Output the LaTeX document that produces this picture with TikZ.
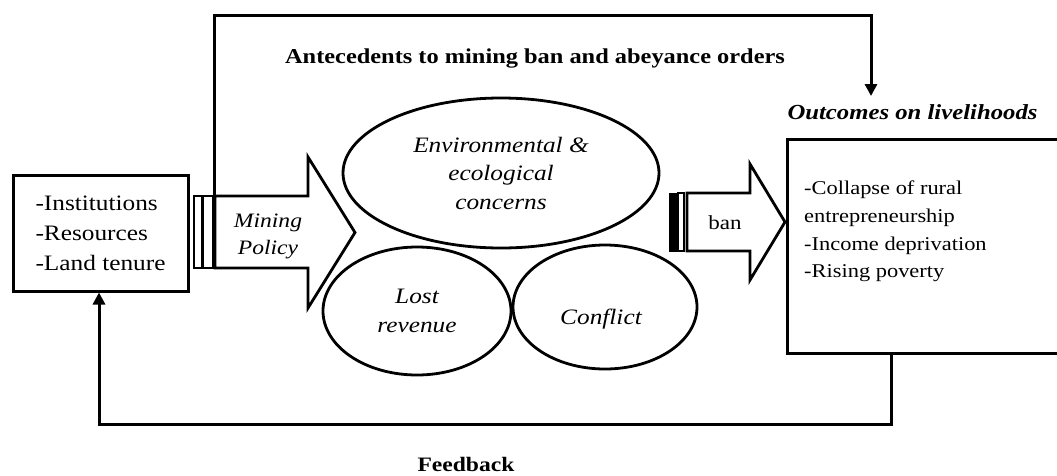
\documentclass[tikz,border=0pt]{standalone}
\usepackage{fontspec}
\setmainfont{Liberation Serif}[FakeStretch=1.15]
\usetikzlibrary{shapes.geometric,arrows.meta}
\begin{document}
\begin{tikzpicture}[x=1pt,y=-1pt,
  box/.style={draw,line width=3pt,rectangle,inner sep=0pt},
  ell/.style={draw,line width=2.8pt,ellipse,inner sep=0pt,align=center,font=\itshape\fontsize{22}{28.5}\selectfont},
  conn/.style={line width=3pt},
  tip/.style={-{Triangle[length=12pt,width=12pt]}},
  blockarrow/.style={draw,line width=2.8pt,fill=white,line join=miter},
  stripe/.style={draw,line width=2.2pt,rectangle,inner sep=0pt},
  lbl/.style={inner sep=0pt,align=left},
  ]
\useasboundingbox (0,0) rectangle (1057,475);

% left box
\node[box,minimum width=175pt,minimum height=116pt,align=left,
      font=\fontsize{22}{30}\selectfont] (lb) at (100.5,233)
  {-Institutions\\-Resources\\-Land tenure};

% mining policy striped tail and block arrow
\node[stripe,minimum width=8pt,minimum height=72pt] (s1) at (198,232) {};
\node[stripe,minimum width=10pt,minimum height=72pt] (s2) at (208,232) {};
\draw[blockarrow] (215,196) -- (308,196) -- (308,157) -- (355,232.5)
  -- (308,308) -- (308,268) -- (215,268) -- cycle;
\node[lbl,align=center,font=\itshape\fontsize{20.5}{27}\selectfont] (mp) at (268,236.5) {Mining\\Policy};

% ellipses
\node[ell,minimum width=316pt,minimum height=150pt] (env) at (501,173)
  {Environmental \&\\ecological\\concerns};
\node[ell,minimum width=188pt,minimum height=128pt] (lost) at (417,311)
  {Lost\\revenue};
\node[ell,minimum width=184pt,minimum height=124pt,
      label={[lbl,font=\itshape\fontsize{22}{28}\selectfont,yshift=-12pt,xshift=-4pt]center:Conflict}] (conf) at (605,307) {};

% ban striped tail and block arrow
\node[draw,fill=black,line width=1pt,rectangle,inner sep=0pt,minimum width=7pt,minimum height=58pt] (b1) at (672.5,222) {};
\node[stripe,minimum width=6pt,minimum height=58pt] (b2) at (681,222) {};
\draw[blockarrow] (687,193) -- (750,193) -- (750,164) -- (785,222)
  -- (750,280) -- (750,251) -- (687,251) -- cycle;
\node[lbl,font=\fontsize{20}{24}\selectfont] (ban) at (725,223) {ban};

% right box
\node[box,minimum width=284pt,minimum height=214pt,anchor=north west] (rb) at (786,138) {};
\node[lbl,anchor=west,font=\fontsize{19.5}{27.7}\selectfont] (rbt) at (804,231.5)
  {-Collapse of rural\\entrepreneurship\\-Income deprivation\\-Rising poverty};
\node[lbl,font=\bfseries\itshape\fontsize{21.5}{26}\selectfont] (out) at (912.5,112) {Outcomes on livelihoods};

% titles
\node[lbl,font=\bfseries\fontsize{21.2}{26}\selectfont] (ante) at (535,58) {Antecedents to mining ban and abeyance orders};
\node[lbl,font=\bfseries\fontsize{20.5}{26}\selectfont] (fb) at (466,464) {Feedback};

% top connector
\coordinate (topc) at (871,15);
\coordinate (toptip) at (871,96);
\draw[conn,tip] (s2.north east) |- (topc) -- (toptip);

% feedback connector
\coordinate (fbr) at (891,424);
\coordinate (fbl) at (99,424);
\draw[conn,tip] (rb.south -| fbr) -- (fbr) -- (fbl) -- (lb.south -| fbl);
\end{tikzpicture}
\end{document}
